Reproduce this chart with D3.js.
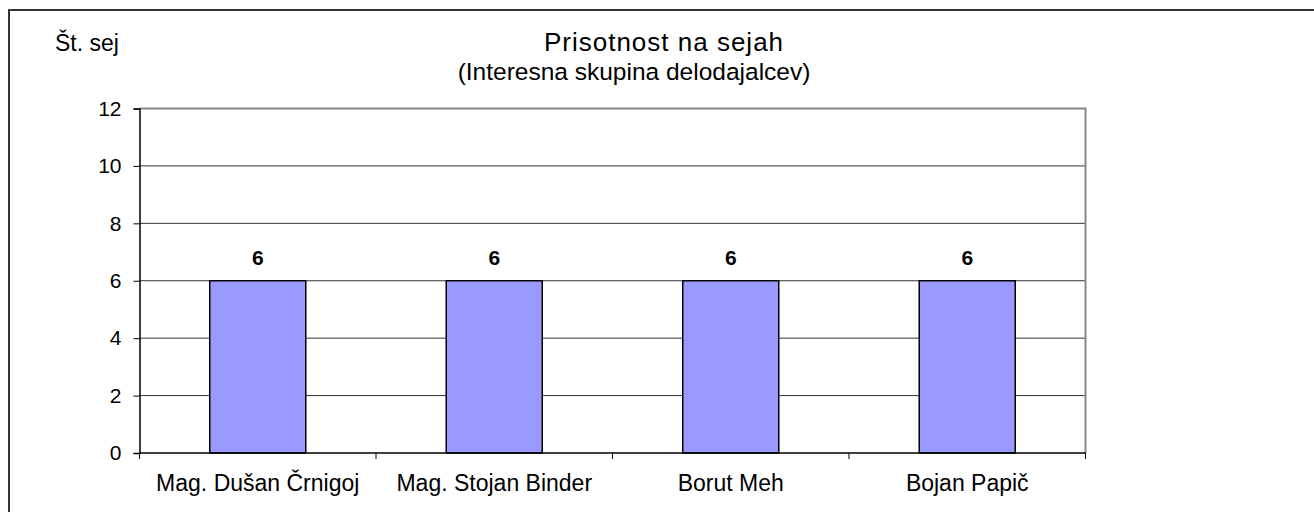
<!DOCTYPE html>
<html>
<head>
<meta charset="utf-8">
<script src="https://cdn.jsdelivr.net/npm/d3@7"></script>
<style>
  body { margin: 0; background: #fff; }
  text { font-family: "Liberation Sans", Arial, sans-serif; fill: #000; }
</style>
</head>
<body>
<script>
// data
var categories = ["Mag. Dušan Črnigoj", "Mag. Stojan Binder", "Borut Meh", "Bojan Papič"];
var sessions = [6, 6, 6, 6];
var yTicks = [0, 2, 4, 6, 8, 10, 12];
var titleLines = ["Prisotnost na sejah", "(Interesna skupina delodajalcev)"];
var yLabel = "Št. sej";

//margin and size
var W = 1314, H = 512;
var margin = { top: 108.5, right: 228.5, bottom: 59, left: 139.5 },
    width = W - margin.left - margin.right,
    height = H - margin.top - margin.bottom;

var svg = d3.select("body").append("svg")
  .attr("width", W)
  .attr("height", H);

// outer frame (only left and top visible in the picture)
svg.append("rect")
  .attr("x", 9).attr("y", 10)
  .attr("width", W + 20).attr("height", H + 20)
  .attr("fill", "none")
  .attr("stroke", "#333")
  .attr("stroke-width", 2);

var g = svg.append("g")
  .attr("transform", "translate(" + margin.left + "," + margin.top + ")");

// scales
var x = d3.scaleBand()
  .domain(categories)
  .range([0, width])
  .padding(0);

var y = d3.scaleLinear()
  .domain([0, 12])
  .range([height, 0]);

var barW = x.bandwidth() * 0.406;

// gridlines
g.selectAll(".grid")
  .data(yTicks.filter(function (d) { return d > 0 && d < 12; }))
  .enter().append("line")
  .attr("x1", 0).attr("x2", width)
  .attr("y1", function (d) { return y(d); })
  .attr("y2", function (d) { return y(d); })
  .attr("stroke", "#333")
  .attr("stroke-width", 1);

// plot area border top + right
g.append("path")
  .attr("d", "M0," + y(12) + "H" + width + "V" + height)
  .attr("fill", "none")
  .attr("stroke", "#888")
  .attr("stroke-width", 2);

// bars
var bars = g.selectAll(".bar")
  .data(sessions)
  .enter().append("g")
  .attr("class", "bar");

bars.append("rect")
  .attr("x", function (d, i) { return x(categories[i]) + x.bandwidth() / 2 - barW / 2; })
  .attr("y", function (d) { return y(d); })
  .attr("width", barW)
  .attr("height", function (d) { return height - y(d); })
  .attr("fill", "#9999ff")
  .attr("stroke", "#000")
  .attr("stroke-width", 1.5);

// value labels
bars.append("text")
  .attr("x", function (d, i) { return x(categories[i]) + x.bandwidth() / 2; })
  .attr("y", function (d) { return y(d) - 16; })
  .attr("text-anchor", "middle")
  .style("font-size", "21px")
  .style("font-weight", "bold")
  .text(function (d) { return d; });

// y axis
var yAxis = g.append("g")
  .call(d3.axisLeft(y).tickValues(yTicks).tickSize(6).tickPadding(12));
yAxis.select(".domain").attr("stroke", "#000").attr("stroke-width", 1.5);
yAxis.selectAll(".tick line").attr("stroke", "#000");
yAxis.selectAll(".tick text")
  .style("font-size", "21px")
  .style("font-family", "Liberation Sans, Arial, sans-serif")
  .attr("fill", "#000");

// x axis, ticks at band boundaries
var xAxis = g.append("g")
  .attr("transform", "translate(0," + height + ")");
xAxis.append("line")
  .attr("x1", 0).attr("x2", width)
  .attr("stroke", "#000").attr("stroke-width", 1.5);
xAxis.selectAll(".xtick")
  .data(categories.concat([null]))
  .enter().append("line")
  .attr("x1", function (d, i) { return i * x.step(); })
  .attr("x2", function (d, i) { return i * x.step(); })
  .attr("y1", 0).attr("y2", 6)
  .attr("stroke", "#000");
xAxis.selectAll(".xlabel")
  .data(categories)
  .enter().append("text")
  .attr("x", function (d) { return x(d) + x.bandwidth() / 2; })
  .attr("y", 38)
  .attr("text-anchor", "middle")
  .style("font-size", "23px")
  .text(function (d) { return d; });

// title (the two lines are not centred on the same x in the original)
svg.selectAll(".title")
  .data(titleLines)
  .enter().append("text")
  .attr("x", function (d, i) { return i === 0 ? 664 : 634; })
  .attr("y", function (d, i) { return 51 + i * 29; })
  .attr("text-anchor", "middle")
  .style("font-size", function (d, i) { return i === 0 ? "26px" : "24.5px"; })
  .style("letter-spacing", function (d, i) { return i === 0 ? "1px" : "0px"; })
  .text(function (d) { return d; });

// y label
svg.append("text")
  .attr("x", 55)
  .attr("y", 51)
  .style("font-size", "23px")
  .text(yLabel);
</script>
</body>
</html>
